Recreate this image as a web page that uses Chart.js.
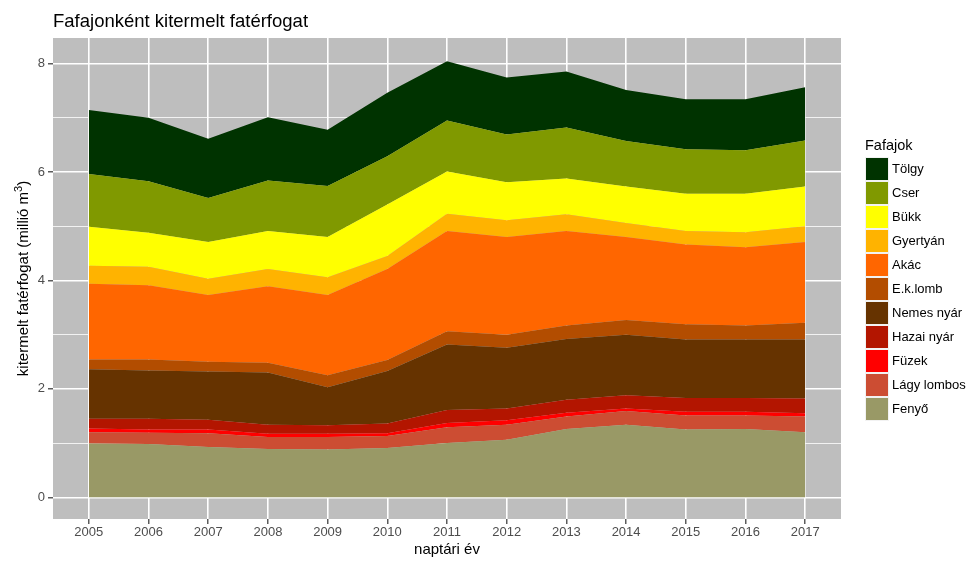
<!DOCTYPE html>
<html><head><meta charset="utf-8">
<script src="https://cdn.jsdelivr.net/npm/chart.js@4.4.1/dist/chart.umd.min.js"></script>
<style>html,body{margin:0;padding:0;background:#fff}</style>
</head><body>
<canvas id="c" width="967" height="561"></canvas>
<script>
// ---- data (million m3), bottom-to-top stacking order ----
const years = [2005,2006,2007,2008,2009,2010,2011,2012,2013,2014,2015,2016,2017];
const fenyo      = [0.99,0.985,0.93,0.89,0.88,0.91,1.00,1.06,1.26,1.34,1.25,1.26,1.20];
const lagyLombos = [0.21,0.205,0.25,0.22,0.23,0.22,0.29,0.28,0.23,0.25,0.26,0.25,0.29];
const fuzek      = [0.07,0.06,0.07,0.06,0.06,0.05,0.08,0.08,0.07,0.05,0.07,0.07,0.06];
const hazaiNyar  = [0.18,0.20,0.18,0.17,0.16,0.18,0.24,0.22,0.24,0.24,0.25,0.25,0.27];
const nemesNyar  = [0.91,0.89,0.89,0.96,0.70,0.97,1.21,1.12,1.12,1.12,1.08,1.08,1.09];
const ekLomb     = [0.18,0.20,0.18,0.18,0.22,0.20,0.24,0.24,0.25,0.27,0.28,0.26,0.31];
const akac       = [1.40,1.37,1.23,1.41,1.48,1.68,1.85,1.80,1.74,1.53,1.47,1.44,1.49];
const gyertyan   = [0.33,0.34,0.30,0.32,0.33,0.24,0.32,0.31,0.31,0.26,0.25,0.28,0.29];
const bukk       = [0.72,0.63,0.68,0.70,0.74,0.95,0.78,0.70,0.66,0.67,0.69,0.71,0.73];
const cser       = [0.97,0.95,0.81,0.93,0.94,0.89,0.94,0.88,0.94,0.84,0.82,0.80,0.85];
const tolgy      = [1.18,1.17,1.09,1.17,1.04,1.17,1.09,1.05,1.03,0.94,0.92,0.94,0.98];

const seriesNames  = ['Fenyő','Lágy lombos','Füzek','Hazai nyár','Nemes nyár','E.k.lomb','Akác','Gyertyán','Bükk','Cser','Tölgy'];
const seriesValues = [fenyo,lagyLombos,fuzek,hazaiNyar,nemesNyar,ekLomb,akac,gyertyan,bukk,cser,tolgy];
const yTickValues  = [0,1,2,3,4,5,6,7,8];

const chartTitle = 'Fafajonként kitermelt fatérfogat';
const xTitle = 'naptári év';
const yTitleMain = 'kitermelt fatérfogat (millió m';
const yTitleSup = '3';
const yTitleEnd = ')';
const legendTitle = 'Fafajok';

// ---- styles ----
const seriesColors = ['#999966','#CC4D33','#FF0000','#B31500','#663300','#B34D00','#FF6600','#FFB300','#FFFF00','#809900','#003300'];
const FONT = '"Liberation Sans", Arial, sans-serif';

const datasets = seriesNames.map((name, i) => ({
  label: name,
  data: years.map((yr, j) => ({x: yr, y: seriesValues[i][j]})),
  backgroundColor: seriesColors[i],
  borderColor: seriesColors[i],
  borderWidth: 0,
  pointRadius: 0,
  tension: 0,
  fill: i === 0 ? 'origin' : '-1'
}));

const decor = {
  id: 'decor',
  beforeDraw(chart) {
    const {ctx, chartArea: a} = chart;
    ctx.save();
    ctx.fillStyle = '#fff';
    ctx.fillRect(0, 0, chart.width, chart.height);
    ctx.fillStyle = '#BEBEBE';
    ctx.fillRect(a.left, a.top, a.right - a.left, a.bottom - a.top);
    ctx.restore();
  },
  afterDraw(chart) {
    const {ctx, chartArea: a} = chart;
    ctx.save();
    // title
    ctx.fillStyle = '#000';
    ctx.font = '18.5px ' + FONT;
    ctx.textAlign = 'left';
    ctx.textBaseline = 'alphabetic';
    ctx.fillText(chartTitle, a.left, 27);
    // x title
    ctx.font = '15px ' + FONT;
    ctx.textAlign = 'center';
    ctx.textBaseline = 'middle';
    ctx.fillText(xTitle, (a.left + a.right) / 2, 550);
    // y title with superscript
    ctx.translate(27.5, (a.top + a.bottom) / 2);
    ctx.rotate(-Math.PI / 2);
    ctx.textBaseline = 'alphabetic';
    ctx.textAlign = 'left';
    ctx.font = '15px ' + FONT;
    const w1 = ctx.measureText(yTitleMain).width;
    const w3 = ctx.measureText(yTitleEnd).width;
    ctx.font = '11px ' + FONT;
    const w2 = ctx.measureText(yTitleSup).width;
    const total = w1 + w2 + w3;
    let x0 = -total / 2;
    ctx.font = '15px ' + FONT;
    ctx.fillText(yTitleMain, x0, 0);
    ctx.font = '11px ' + FONT;
    ctx.fillText(yTitleSup, x0 + w1, -6);
    ctx.font = '15px ' + FONT;
    ctx.fillText(yTitleEnd, x0 + w1 + w2, 0);
    ctx.restore();

    // legend
    ctx.save();
    ctx.fillStyle = '#000';
    ctx.font = '14.5px ' + FONT;
    ctx.textAlign = 'left';
    ctx.textBaseline = 'alphabetic';
    ctx.fillText(legendTitle, 865, 150);
    const ds = chart.data.datasets.slice().reverse();
    ctx.font = '13px ' + FONT;
    ctx.textBaseline = 'middle';
    ds.forEach((d, i) => {
      const y = 158 + i * 24;
      ctx.fillStyle = '#F2F2F2';
      ctx.fillRect(865, y - 1, 24, 24);
      ctx.fillStyle = d.backgroundColor;
      ctx.fillRect(866, y, 22, 22);
      ctx.fillStyle = '#000';
      ctx.fillText(d.label, 892, y + 11.5);
    });
    ctx.restore();
  }
};

new Chart(document.getElementById('c'), {
  type: 'line',
  data: {datasets},
  options: {
    responsive: false,
    devicePixelRatio: 1,
    animation: false,
    layout: {padding: {top: 38, right: 126, bottom: 0, left: 0}},
    plugins: {legend: {display: false}, title: {display: false}, tooltip: {enabled: false}},
    elements: {line: {borderWidth: 0}},
    scales: {
      x: {
        type: 'linear',
        min: 2004.4, max: 2017.6,
        afterBuildTicks: s => { s.ticks = years.map(v => ({value: v})); },
        afterFit: s => { s.height = 42; },
        ticks: {
          autoSkip: false, maxRotation: 0, padding: 1,
          color: '#4D4D4D', font: {family: FONT, size: 13},
          callback: v => String(v)
        },
        grid: {color: '#FFFFFF', lineWidth: 1.6, tickLength: 5, tickColor: '#333333', tickWidth: 1.2},
        border: {display: false}
      },
      y: {
        stacked: true,
        min: -0.40, max: 8.47,
        afterBuildTicks: s => { s.ticks = yTickValues.map(v => ({value: v})); },
        afterFit: s => { s.width = 53; },
        ticks: {
          autoSkip: false, padding: 3,
          color: '#4D4D4D', font: {family: FONT, size: 13},
          callback: v => (v % 2 === 0 ? String(v) : '')
        },
        grid: {
          color: '#FFFFFF',
          lineWidth: c => (c.tick && c.tick.value % 2 === 0 ? 1.6 : 0.8),
          tickLength: 5,
          tickColor: c => (c.tick && c.tick.value % 2 === 0 ? '#333333' : 'rgba(0,0,0,0)'),
          tickWidth: 1.2
        },
        border: {display: false}
      }
    }
  },
  plugins: [decor]
});
</script>
</body></html>
